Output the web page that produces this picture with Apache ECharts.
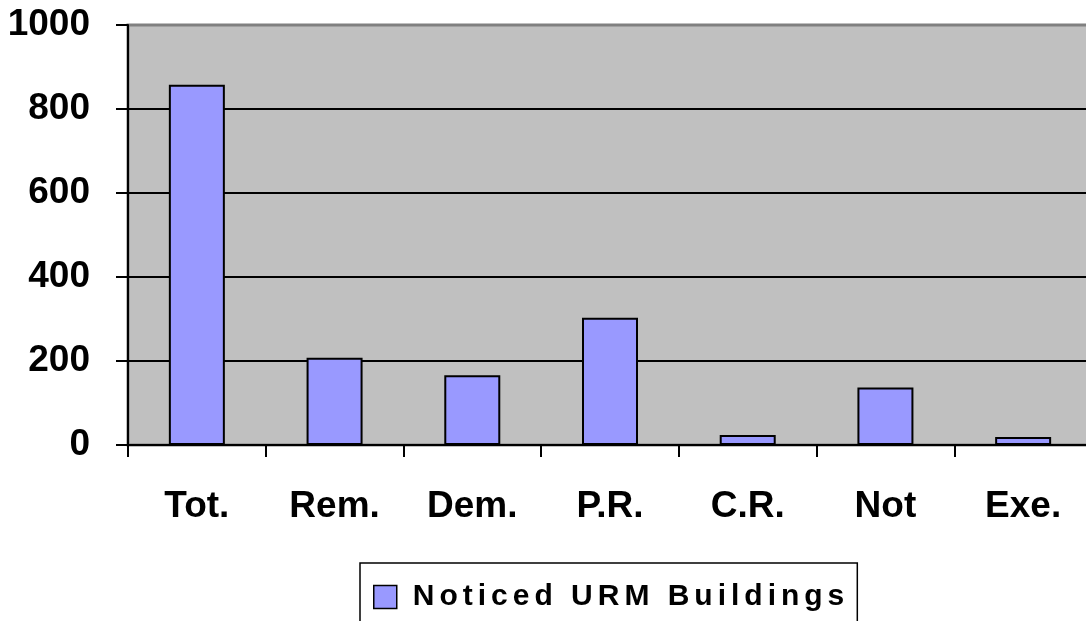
<!DOCTYPE html>
<html><head><meta charset="utf-8">
<script src="https://cdn.jsdelivr.net/npm/echarts@6/dist/echarts.min.js"></script>
<style>html,body{margin:0;padding:0;background:#fff}#c{width:1086px;height:621px}</style>
</head><body><div id="c"></div>
<script>
var categories = ['Tot.', 'Rem.', 'Dem.', 'P.R.', 'C.R.', 'Not', 'Exe.'];
var values = [858, 208, 166, 303, 24, 137, 19];
var seriesName = 'Noticed URM Buildings';

var FONT = '"Liberation Sans", Arial, sans-serif';
function spaced(s) { return String(s).split('').join('\u2006'); }

var chart = echarts.init(document.getElementById('c'), null, {renderer: 'canvas'});
chart.setOption({
  animation: false,
  backgroundColor: '#fff',
  grid: {left: 128, top: 25, bottom: 176, width: 964, outerBoundsMode: 'none', containLabel: false,
         show: true, backgroundColor: '#C0C0C0', borderColor: '#808080', borderWidth: 3},
  legend: {
    data: [seriesName], left: 360, top: 563,
    backgroundColor: '#fff', borderColor: '#000', borderWidth: 1.5, borderRadius: 0,
    padding: [19, 13, 30, 13], itemWidth: 23, itemHeight: 23, icon: 'rect',
    itemStyle: {color: '#9999FF', borderColor: '#000', borderWidth: 1.5},
    textStyle: {fontFamily: FONT, fontWeight: 'bold', fontSize: 30, lineHeight: 25, color: '#000', padding: [0, 0, 0, 11]},
    formatter: function (n) { return spaced(n); }
  },
  xAxis: {
    type: 'category', data: categories,
    axisLine: {lineStyle: {color: '#000', width: 2}},
    axisTick: {show: true, length: 12, lineStyle: {color: '#000', width: 2}},
    axisLabel: {interval: 0, margin: 43, fontFamily: FONT, fontWeight: 'bold', fontSize: 37, lineHeight: 37, color: '#000'}
  },
  yAxis: {
    type: 'value', min: 0, max: 1000, interval: 200,
    axisLine: {show: true, lineStyle: {color: '#000', width: 2}},
    axisTick: {show: true, length: 12, lineStyle: {color: '#000', width: 2}},
    splitLine: {show: true, lineStyle: {color: ['#000', '#000', '#000', '#000', '#000', '#808080'], width: 2}},
    axisLabel: {margin: 38, fontFamily: FONT, fontWeight: 'bold', fontSize: 37, color: '#000',
                formatter: function (v) { return String(v); }}
  },
  series: [{
    name: seriesName, type: 'bar', data: values, barWidth: 56,
    itemStyle: {color: '#9999FF', borderColor: '#000', borderWidth: 2}
  }]
});
</script></body></html>
